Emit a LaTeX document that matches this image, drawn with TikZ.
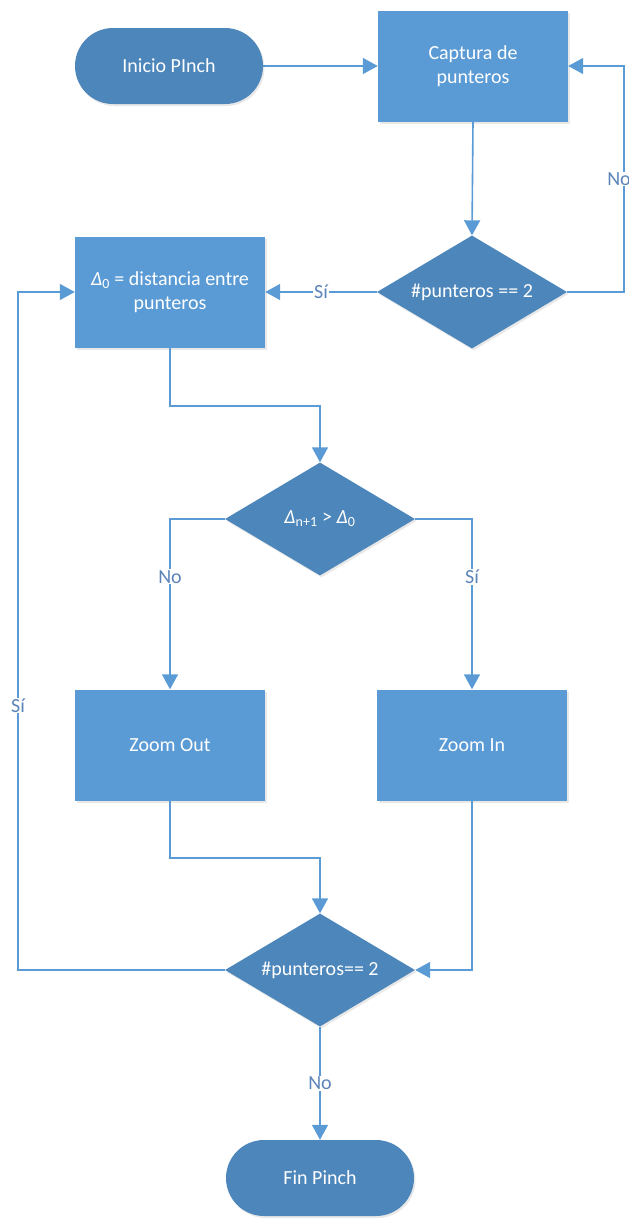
\documentclass[tikz,border=0pt]{standalone}
\usepackage{fontspec}
\setmainfont{Carlito}
\usetikzlibrary{arrows.meta,shapes.geometric,shapes.misc,shadows}
\definecolor{boxblue}{HTML}{5B9BD5}
\definecolor{darkblue}{HTML}{4D86BA}
\definecolor{lineblue}{HTML}{5B9BD5}
\definecolor{lblcol}{HTML}{5C84B8}
\tikzset{
  base/.style={text=white, font=\fontsize{20}{24}\selectfont, align=center,
    drop shadow={opacity=0.18, shadow xshift=1.5pt, shadow yshift=-2pt}},
  term/.style={base, rounded rectangle, fill=darkblue, minimum width=188pt, minimum height=76pt, inner sep=0pt},
  procbox/.style={base, rectangle, fill=boxblue, minimum width=190pt, minimum height=111pt, inner sep=2pt},
  decbox/.style={base, diamond, fill=darkblue, minimum width=190pt, minimum height=113pt, shape aspect=1.68, inner sep=0pt},
  arr/.style={draw=lineblue, line width=1.6pt, -{Triangle[length=15pt,width=16pt]}},
  lbl/.style={fill=white, text=lblcol, font=\fontsize{20}{24}\selectfont, inner sep=1pt}
}
\begin{document}
\begin{tikzpicture}[x=1pt,y=-1pt]
\useasboundingbox (0,0) rectangle (629,1219);
\node[term] (ini) at (169,66) {Inicio PInch};
\node[procbox] (cap) at (473,66) {Captura de\\punteros};
\node[decbox] (d1) at (472,292) {\#punteros == 2};
\node[procbox] (r2) at (170,292) {{\itshape Δ}\textsubscript{0} = distancia entre\\punteros};
\node[decbox] (d2) at (320,519) {{\itshape Δ}\textsubscript{n+1} > {\itshape Δ}\textsubscript{0}};
\node[procbox] (zo) at (170,745) {Zoom Out};
\node[procbox] (zi) at (472,745) {Zoom In};
\node[decbox] (d3) at (320,970) {\#punteros== 2};
\node[term] (fin) at (320,1178) {Fin Pinch};
\coordinate (nr) at (624,292);
\coordinate (lb) at (18,970);

\draw[arr] (ini.east) -- (cap.west);
\draw[arr] (cap.south) -- (d1.north);
\draw[arr] (d1.east) -- (nr) |- node[lbl,pos=0.25,xshift=-5pt]{No} (cap.east);
\draw[arr] (d1.west) -- node[lbl]{Sí} (r2.east);
\draw[arr] (r2.south) -- ++(0,58) -| (d2.north);
\draw[arr] (d2.west) -| node[lbl,pos=0.67]{No} (zo.north);
\draw[arr] (d2.east) -| node[lbl,pos=0.67]{Sí} (zi.north);
\draw[arr] (zo.south) -- ++(0,57) -| (d3.north);
\draw[arr] (zi.south) |- (d3.east);
\draw[arr] (d3.west) -- (lb) |- node[lbl,pos=0.195]{Sí} (r2.west);
\draw[arr] (d3.south) -- node[lbl]{No} (fin.north);
\end{tikzpicture}
\end{document}
